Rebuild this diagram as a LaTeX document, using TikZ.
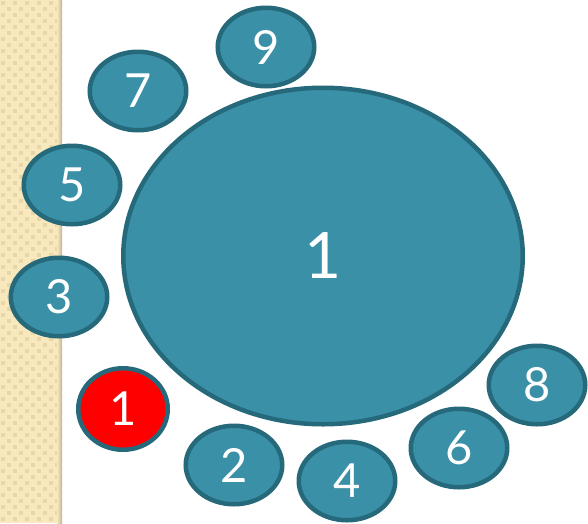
\documentclass[tikz,border=0pt]{standalone}
\usepackage{fontspec}
\setmainfont{Lato}
\usetikzlibrary{shapes.geometric}
\definecolor{seatfill}{RGB}{58,144,167}
\definecolor{seatedge}{RGB}{37,105,122}
\definecolor{wallbase}{RGB}{248,232,190}
\definecolor{walldot}{RGB}{232,214,168}
\tikzset{
  seat/.style={ellipse, draw=seatedge, fill=seatfill, line width=4.5pt,
               minimum width=96.5pt, minimum height=78.5pt, inner sep=0pt,
               text=white, font=\fontsize{47}{47}\selectfont},
  redseat/.style={seat, fill=red, minimum width=89.5pt, minimum height=81.5pt},
  bigtable/.style={seat, minimum width=399.5pt, minimum height=336.5pt,
                   font=\fontsize{64}{64}\selectfont}
}
\begin{document}
\begin{tikzpicture}[x=1pt,y=-1pt]
  \useasboundingbox[fill=white] (0,0) rectangle (588,523);
  % wall strip
  \fill[wallbase] (0,0) rectangle (62,523);
  \foreach \i in {0,...,9}{
    \foreach \j in {0,...,86}{
      \pgfmathparse{int(mod(\i+\j,2))}
      \ifnum\pgfmathresult=0
        \fill[walldot] (\i*6+1,\j*6+1) rectangle ++(4,4);
      \fi
    }
  }
  \shade[left color=wallbase, right color=black!22!wallbase] (57,0) rectangle (62,523);
  % table
  \node[bigtable] (table) at (323,256) {1};
  % seats
  \node[seat] (s9) at (266,47) {9};
  \node[seat] (s7) at (138,91) {7};
  \node[seat] (s5) at (72,185) {5};
  \node[seat] (s3) at (59,297) {3};
  \node[redseat] (s1) at (123,409) {1};
  \node[seat] (s2) at (234,465) {2};
  \node[seat] (s4) at (347,481) {4};
  \node[seat] (s6) at (459,448) {6};
  \node[seat] (s8) at (537,385) {8};
\end{tikzpicture}
\end{document}
